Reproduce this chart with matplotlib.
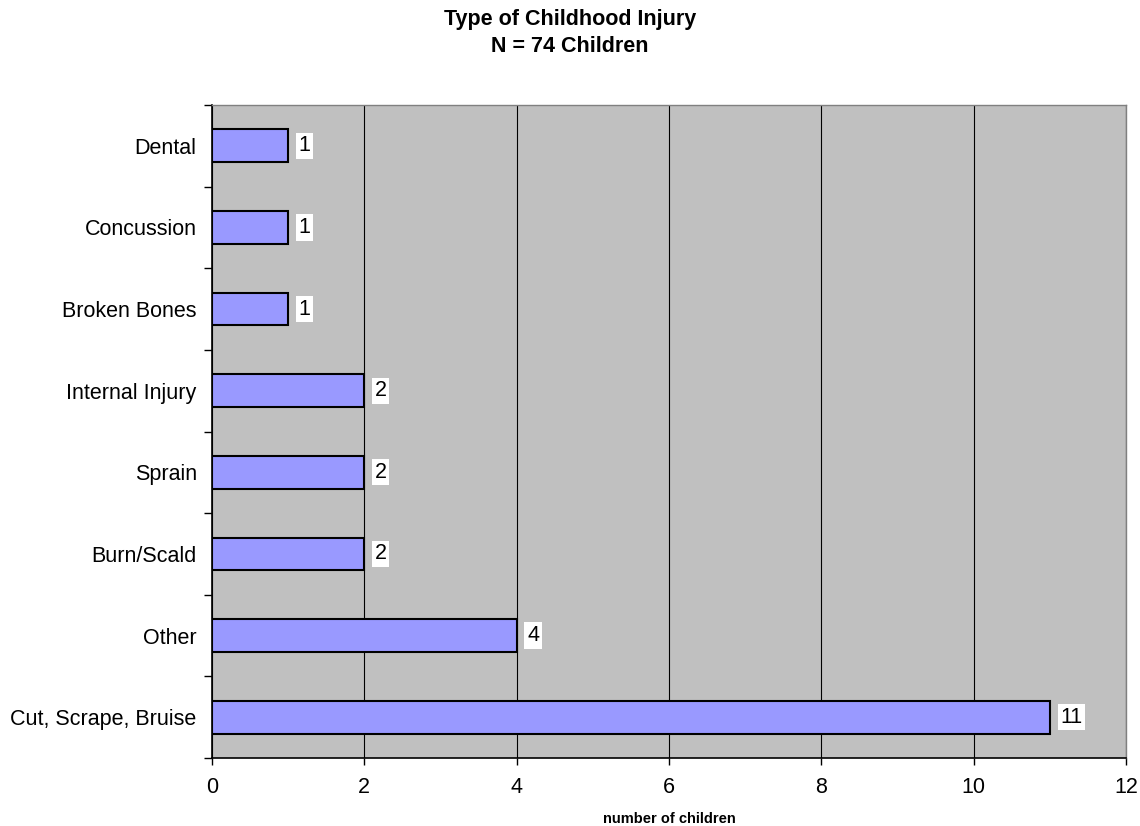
import matplotlib
matplotlib.use("Agg")
import matplotlib.pyplot as plt
import numpy as np

plt.rcParams['font.family'] = ['Liberation Sans', 'DejaVu Sans']

categories = ["Cut, Scrape, Bruise", "Other", "Burn/Scald", "Sprain",
              "Internal Injury", "Broken Bones", "Concussion", "Dental"]
values = [11, 4, 2, 2, 2, 1, 1, 1]
x_ticks = [0, 2, 4, 6, 8, 10, 12]

fig = plt.figure(figsize=(11.4, 8.26), dpi=100)
ax = fig.add_axes([212/1140, 68/826, (1126-212)/1140, (758-105)/826])
ax.set_facecolor('#C0C0C0')

y = np.arange(len(categories))
ax.barh(y, values, height=0.4, color='#9999FF', edgecolor='black', linewidth=1.5, zorder=3)

for yi, v in zip(y, values):
    ax.annotate(str(v), xy=(v, yi), xytext=(7.5, 0), textcoords='offset points',
                va='center', ha='left', fontsize=15.5,
                bbox=dict(boxstyle='square,pad=0.12', facecolor='white', edgecolor='none'),
                zorder=4)

ax.set_xlim(0, 12)
ax.set_ylim(-0.5, len(categories) - 0.5)
ax.set_xticks(x_ticks)
ax.set_xticklabels([str(t) for t in x_ticks], fontsize=15.5)
ax.tick_params(axis='x', direction='out', length=5, width=1, pad=9)
ax.set_yticks(y)
ax.set_yticklabels(categories, fontsize=15.5)
ax.tick_params(axis='y', which='major', length=0, pad=11)
ax.set_yticks(np.arange(-0.5, len(categories), 1), minor=True)
ax.tick_params(axis='y', which='minor', direction='out', length=6, width=1)

ax.xaxis.grid(True, color='black', linewidth=0.8, zorder=0)
ax.set_axisbelow(True)

for s in ['top', 'right']:
    ax.spines[s].set_color('#808080')
    ax.spines[s].set_linewidth(1)
for s in ['left', 'bottom']:
    ax.spines[s].set_color('black')
    ax.spines[s].set_linewidth(1.2)

ax.set_xlabel('number of children', fontsize=10.5, fontweight='bold', labelpad=10)
fig.text(0.5, 1 - 20/826, 'Type of Childhood Injury',
         ha='center', va='center', fontsize=15.5, fontweight='bold')
fig.text(0.5, 1 - 47/826, 'N = 74 Children',
         ha='center', va='center', fontsize=15.5, fontweight='bold')

fig.savefig('out.png', dpi=100)
